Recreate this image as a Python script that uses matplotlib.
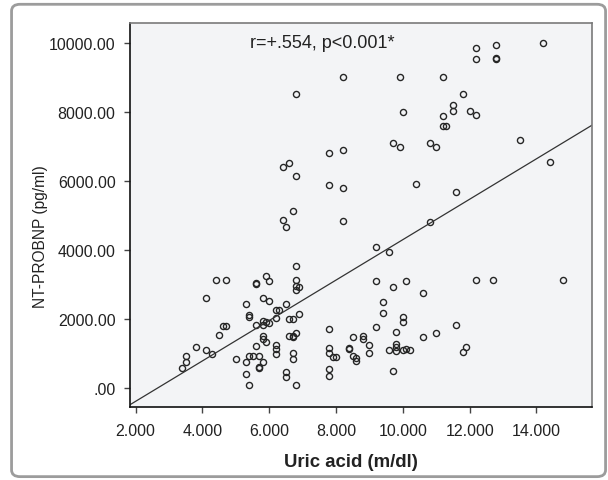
import numpy as np
import matplotlib
matplotlib.use('Agg')
import matplotlib.pyplot as plt
from matplotlib.patches import FancyBboxPatch

plt.rcParams['font.family'] = ['Liberation Sans', 'DejaVu Sans']

# uric acid (m/dl) and NT-proBNP (pg/ml)
uric = [14.2, 12.8, 12.2, 12.2, 12.8, 12.8, 8.2, 9.9, 11.2, 6.8,
        11.8, 11.5, 10.0, 11.5, 12.0, 11.2, 12.2, 11.2, 11.3, 13.5,
        9.7, 9.9, 10.8, 11.0, 7.8, 8.2, 14.4, 6.6, 6.4, 6.8,
        10.4, 7.8, 8.2, 11.6, 6.7, 6.4, 6.5, 8.2, 10.8, 9.2,
        9.6, 6.8, 4.4, 4.7, 5.9, 6.0, 5.6, 5.6, 6.8, 6.8,
        6.9, 6.8, 9.2, 10.1, 9.7, 12.2, 12.7, 14.8, 10.6, 4.1,
        5.8, 6.0, 9.4, 5.3, 6.5, 6.2, 6.3, 5.4, 5.4, 9.4,
        6.9, 6.2, 6.6, 6.7, 10.0, 10.0, 5.8, 5.9, 6.0, 5.6,
        5.8, 4.6, 4.7, 9.2, 11.6, 7.8, 9.8, 4.5, 11.0, 6.8,
        6.6, 6.7, 6.7, 5.8, 5.8, 8.5, 8.8, 8.8, 10.6, 5.9,
        6.2, 6.2, 6.2, 9.0, 3.8, 5.6, 7.8, 9.8, 9.8, 11.9,
        4.1, 8.4, 8.4, 9.6, 10.0, 10.1, 10.2, 9.8, 11.8, 7.8,
        6.7, 9.0, 4.3, 3.5, 5.4, 5.5, 5.7, 7.9, 8.0, 8.5,
        8.6, 5.0, 6.7, 5.8, 5.3, 5.7, 5.7, 5.3, 5.4, 3.5,
        3.4, 7.8, 9.7, 6.5, 6.5, 7.8, 6.8, 8.6]
ntprobnp = [10000, 9920, 9850, 9540, 9540, 9545, 9000, 9000, 9000, 8510,
            8510, 8200, 8000, 8010, 8010, 7870, 7915, 7580, 7580, 7190,
            7095, 6990, 7095, 6975, 6815, 6890, 6530, 6525, 6400, 6135,
            5915, 5878, 5805, 5670, 5115, 4868, 4650, 4835, 4815, 4072,
            3945, 3520, 3125, 3125, 3255, 3110, 3040, 3000, 3140, 2947,
            2918, 2831, 3105, 3100, 2930, 3130, 3121, 3130, 2743, 2595,
            2615, 2520, 2505, 2425, 2420, 2255, 2255, 2110, 2057, 2168,
            2155, 2038, 2010, 2010, 2060, 1925, 1945, 1913, 1875, 1820,
            1830, 1800, 1800, 1775, 1820, 1695, 1622, 1535, 1584, 1590,
            1510, 1480, 1505, 1507, 1411, 1486, 1507, 1430, 1486, 1320,
            1246, 1121, 995, 1254, 1197, 1207, 1150, 1270, 1197, 1197,
            1100, 1150, 1120, 1109, 1109, 1121, 1109, 1060, 1043, 1013,
            1004, 1005, 975, 918, 915, 920, 915, 885, 885, 925,
            878, 840, 830, 750, 760, 620, 575, 405, 96, 750,
            580, 555, 500, 460, 320, 340, 96, 790]

# fit line as drawn in the chart
fit_intercept = -1554
fit_slope = 585

x_ticks = [2, 4, 6, 8, 10, 12, 14]
x_ticklabels = ['2.000', '4.000', '6.000', '8.000', '10.000', '12.000', '14.000']
y_ticks = [0, 2000, 4000, 6000, 8000, 10000]
y_ticklabels = ['.00', '2000.00', '4000.00', '6000.00', '8000.00', '10000.00']
x_range = [1.815, 15.67]
y_range = [-560, 10560]

fig = plt.figure(figsize=(6.08, 4.81), dpi=100)
frame = FancyBboxPatch((0.019, 0.007), 0.977, 0.982,
                       boxstyle='round,pad=0,rounding_size=0.014',
                       transform=fig.transFigure, fc='white', ec='#9c9c9c', lw=2,
                       zorder=-10)
fig.patches.append(frame)

ax = fig.add_axes([0.213, 0.151, 0.761, 0.7985])
ax.set_facecolor('#f3f4f6')

ax.plot(uric, ntprobnp, 'o', mfc='none', mec='#262626', ms=4.4, mew=1.0)

xs = np.array(x_range)
ax.plot(xs, fit_intercept + fit_slope * xs, color='#333333', lw=0.9)

ax.set_xlim(x_range)
ax.set_ylim(y_range)
ax.set_xticks(x_ticks)
ax.set_xticklabels(x_ticklabels)
ax.set_yticks(y_ticks)
ax.set_yticklabels(y_ticklabels)

ax.text(7.6, 10000, 'r=+.554, p<0.001*', ha='center', va='center',
        fontsize=13, color='#222222')

for s in ['left', 'bottom']:
    ax.spines[s].set_color('#111111')
    ax.spines[s].set_linewidth(1.2)
for s in ['top', 'right']:
    ax.spines[s].set_color('#7a7a7a')
    ax.spines[s].set_linewidth(1.2)

ax.tick_params(direction='out', length=4.5, width=1, color='#444444',
               labelsize=11.5, labelcolor='#222222')
ax.tick_params(axis='x', pad=7)
ax.tick_params(axis='y', pad=5.5)

ax.set_xlabel('Uric acid (m/dl)', fontsize=13.4, fontweight='bold', color='#222222')
ax.xaxis.label.set_va('center')
ax.xaxis.set_label_coords(0.4786, -0.14)
ax.set_ylabel('NT-PROBNP (pg/ml)', fontsize=11.2, color='#222222')
ax.yaxis.label.set_va('center')
ax.yaxis.set_label_coords(-0.193, 0.447)

fig.savefig('out.png', dpi=100)
